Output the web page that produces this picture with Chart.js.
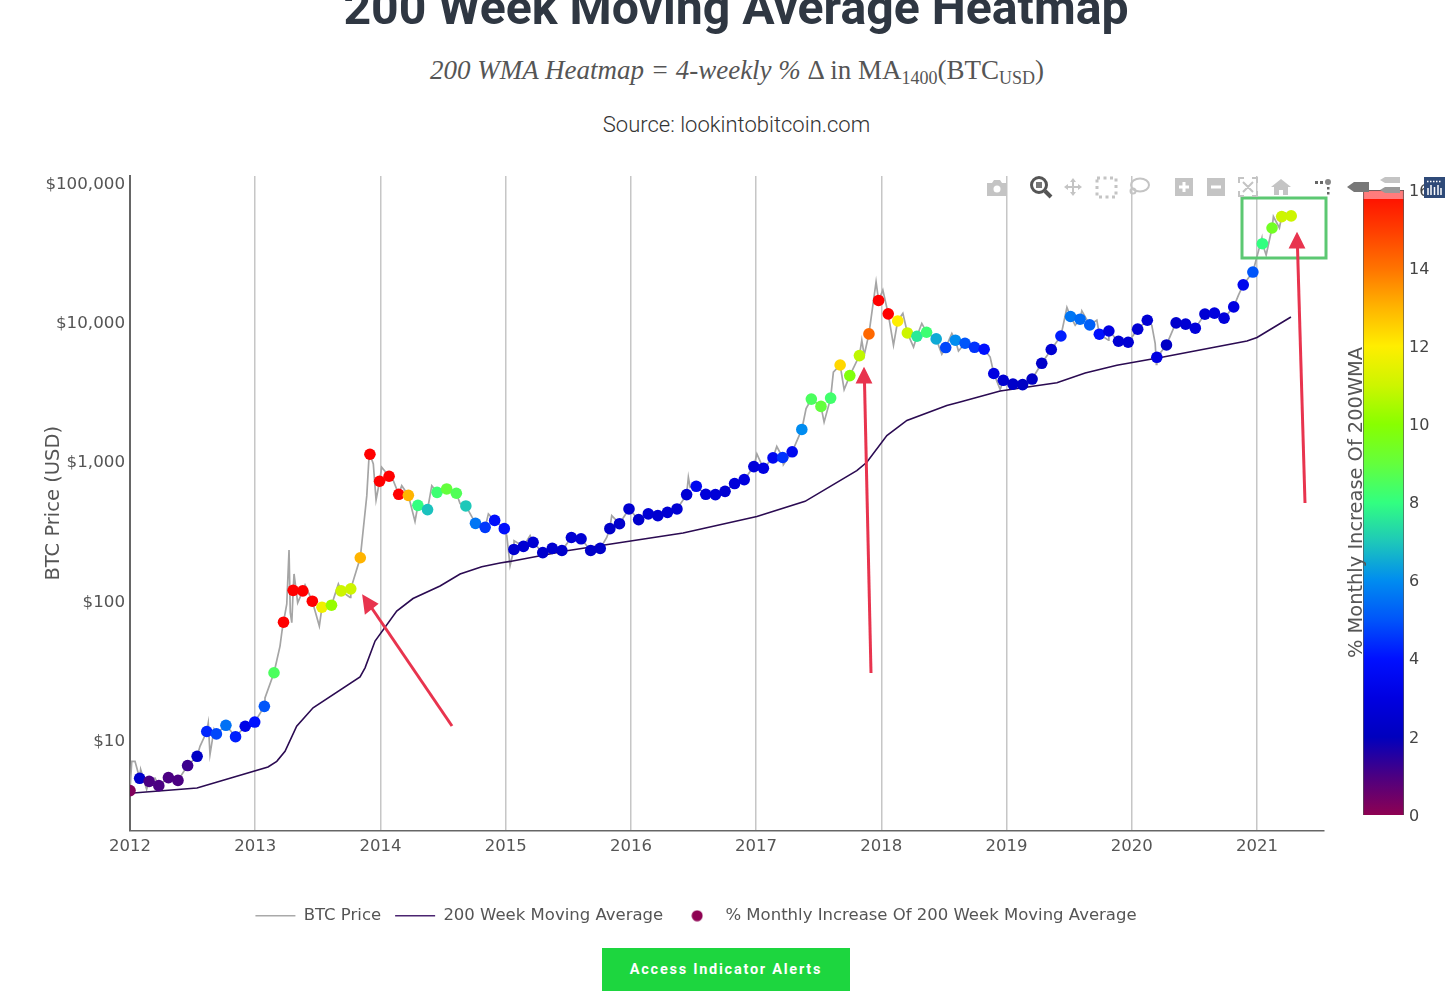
<!DOCTYPE html>
<html>
<head>
<meta charset="utf-8">
<title>200 Week Moving Average Heatmap</title>
<script src="https://cdn.jsdelivr.net/npm/chart.js@4"></script>
<style>
  html, body { margin: 0; padding: 0; background: #fff; overflow: hidden; }
  body { width: 1456px; height: 1007px; position: relative; }
  canvas { position: absolute; display: block; }
  #title, #formula, #source { position: absolute; left: 0; text-align: center; white-space: nowrap; }
  #title { top: -21.500px; width: 1472px; font: 700 48.200px Roboto, sans-serif; color: #2f3742; }
  #formula { top: 55px; width: 1474px; font: 27px "Liberation Serif", serif; color: #555; }
  #formula sub { font-size: 18px; vertical-align: -5px; line-height: 0; }
  #source { top: 112px; width: 1473px; font: 300 22px Roboto, sans-serif; color: #333; }
  #barTitle { position: absolute; left: 1344px; top: 502px; transform-origin: 0 0; transform: translate(0, 156px) rotate(-90deg); font: 19.400px "DejaVu Sans", sans-serif; color: #555; white-space: nowrap; }
  #alerts { position: absolute; left: 602px; top: 948px; width: 248px; height: 43px; background: #1dd63f; color: #fff; text-align: center; font: 700 14.500px/43px Roboto, sans-serif; letter-spacing: 1.750px; }
  #overlay { position: absolute; left: 0; top: 0; }
</style>
</head>
<body>
<div id="title">200 Week Moving Average Heatmap</div>
<div id="formula"><i>200 WMA Heatmap = 4-weekly %</i> &#916; in MA<sub>1400</sub>(BTC<sub>USD</sub>)</div>
<div id="source">Source: lookintobitcoin.com</div>
<canvas id="mainChart" width="1456" height="1007" style="left:0;top:0"></canvas>
<canvas id="barChart" width="116" height="660" style="left:1340px;top:170px"></canvas>
<div id="barTitle">% Monthly Increase Of 200WMA</div>
<div id="alerts">Access Indicator Alerts</div>

<svg id="overlay" width="1456" height="1007">
  <!-- green box and red arrows drawn on the original screenshot -->
  <rect x="1242" y="198" width="84" height="60" fill="none" stroke="#5cc872" stroke-width="3"/>
  <g stroke="#e8344e" stroke-width="3" fill="#e8344e">
    <line x1="452" y1="726" x2="369" y2="604"/>
    <path d="M364 597 L376 604 L366 612 Z"/>
    <line x1="871" y1="673" x2="864.500" y2="382"/>
    <path d="M864 370 L870 382 L858 382 Z"/>
    <line x1="1305" y1="503" x2="1297.500" y2="247"/>
    <path d="M1297 235 L1303 247 L1291 247 Z"/>
  </g>
  <!-- plotly mode bar -->
  <g fill="#c4c4c4" stroke="none">
    <path d="M987 183 h5 l2 -3 h6 l2 3 h5 v13 h-20 z"/>
    <circle cx="997" cy="189" r="3.500" fill="#fff"/>
    <path d="M1073 178 l3 4 h-2 v4 h4 v-2 l4 3 l-4 3 v-2 h-4 v4 h2 l-3 4 l-3 -4 h2 v-4 h-4 v2 l-4 -3 l4 -3 v2 h4 v-4 h-2 z"/>
    <rect x="1175" y="178" width="18" height="18"/>
    <rect x="1207" y="178" width="18" height="18"/>
    <path d="M1281 179 l10 8 h-3 v8 h-5 v-5 h-4 v5 h-5 v-8 h-3 z"/>
    <circle cx="1328" cy="182" r="3" fill="#888"/>
    <rect x="1315" y="181" width="3" height="3" fill="#666"/>
    <rect x="1320" y="181" width="3" height="3" fill="#666"/>
    <rect x="1327" y="187" width="2.500" height="2.500" fill="#666"/>
    <rect x="1327" y="192" width="2.500" height="2.500" fill="#666"/>
    <path d="M1347 187 l7 -5 h15 v10 h-15 z" fill="#777"/>
    <path d="M1380 180 l5 -3 h15 v6 h-15 z"/>
    <path d="M1380 190 l5 -3 h15 v6 h-15 z" fill="#999"/>
  </g>
  <g fill="none" stroke="#c4c4c4" stroke-width="2">
    <rect x="1097" y="178" width="19" height="19" stroke-dasharray="3 3.500" stroke-width="3"/>
    <ellipse cx="1140" cy="185" rx="9" ry="6.500"/>
    <circle cx="1133" cy="191" r="2.500"/>
    <path d="M1239 183 v-5 h5 M1252 178 h5 v5 M1257 191 v5 h-5 M1244 196 h-5 v-5 M1243 182 l10 10 M1253 182 l-10 10"/>
    <path d="M1179 187 h10 M1184 182 v10 M1211 187 h10" stroke="#fff" stroke-width="3"/>
  </g>
  <g fill="none" stroke="#555" stroke-width="3">
    <circle cx="1039" cy="185" r="7.500"/>
    <line x1="1045" y1="191" x2="1051" y2="197" stroke-width="4"/>
    <rect x="1036" y="182" width="6" height="6" fill="#777" stroke="none"/>
  </g>
  <rect x="1424" y="177" width="21" height="21" fill="#2f4a78"/>
  <g stroke="#fff" stroke-width="1.500">
    <line x1="1428" y1="188" x2="1428" y2="195"/><line x1="1431" y1="185" x2="1431" y2="195"/>
    <line x1="1434.500" y1="187" x2="1434.500" y2="195"/><line x1="1438" y1="185" x2="1438" y2="195"/>
    <line x1="1441" y1="188" x2="1441" y2="195"/>
    <line x1="1427" y1="181.500" x2="1442" y2="181.500" stroke-dasharray="1.500 1.500"/>
  </g>
</svg>

<script>
// 4-weekly samples, x as decimal years
const dotYears = [
  2012.000,2012.077,2012.153,2012.230,2012.307,2012.383,2012.460,2012.536,2012.613,2012.690,2012.766,2012.843,2012.920,2012.996,
  2013.073,2013.150,2013.226,2013.303,2013.380,2013.456,2013.533,2013.609,2013.686,2013.763,2013.839,2013.916,2013.993,
  2014.069,2014.146,2014.223,2014.299,2014.376,2014.452,2014.529,2014.606,2014.682,2014.759,2014.836,2014.912,2014.989,
  2015.066,2015.142,2015.219,2015.296,2015.372,2015.449,2015.525,2015.602,2015.679,2015.755,2015.832,2015.909,2015.985,
  2016.062,2016.139,2016.215,2016.292,2016.368,2016.445,2016.522,2016.598,2016.675,2016.752,2016.828,2016.905,2016.982,
  2017.058,2017.135,2017.212,2017.288,2017.365,2017.441,2017.518,2017.595,2017.671,2017.748,2017.825,2017.901,2017.978,
  2018.055,2018.131,2018.208,2018.284,2018.361,2018.438,2018.514,2018.591,2018.668,2018.744,2018.821,2018.898,2018.974,
  2019.051,2019.128,2019.204,2019.281,2019.357,2019.434,2019.511,2019.587,2019.664,2019.741,2019.817,2019.894,2019.971,
  2020.047,2020.124,2020.200,2020.277,2020.354,2020.430,2020.507,2020.584,2020.660,2020.737,2020.814,2020.890,2020.967,
  2021.043,2021.120,2021.197,2021.273];
const dotPrices = [
  4.35,5.33,5.07,4.72,5.39,5.15,6.58,7.67,11.55,11.1,12.8,10.6,12.6,13.5,
  17.5,30.5,70.3,119,118,99.5,90.1,93.1,118,122,204,1128,722,
  784,582,572,485,452,601,636,592,480,360,337,378,330,
  234,246,263,222,238,230,285,279,230,238,330,358,457,
  383,421,409,432,457,579,664,582,579,611,695,742,920,
  895,1063,1069,1175,1700,2807,2487,2853,4931,4137,5757,8241,14322,
  11480,10210,8375,7930,8472,7586,6577,7430,7063,6607,6397,4285,3828,
  3597,3565,3908,5070,6368,7962,10990,10510,9572,8204,8650,7300,7178,
  8913,10330,5598,6866,9886,9683,9057,11430,11610,10690,12880,18540,22910,
  36590,47430,57280,57940];
const dotHeat = [
  0.2,2.4,1,1,1,1,1.2,2.2,4.3,4.8,5.5,4.2,3.2,4,
  5,8.5,16,16,16,16,11.7,10.2,11,11,13,16,16,
  16,16,13,8,6.9,8.2,9,8.6,7,5.6,4.6,3.9,3.9,
  2.5,2.6,2.6,2.4,2.5,2.4,2.6,2.6,2.3,2.3,2.3,2.4,2.5,
  2.4,2.6,2.5,2.6,2.6,2.6,3.5,2.8,2.7,2.6,2.8,2.9,2.8,
  3,3.5,4.5,3.5,6,8.5,9,8.3,12.4,9.8,10.8,14.2,16,
  16,12,11,7.6,8.2,6.5,4.8,6,5,4.5,4,3,2.5,
  2.3,2.2,2.2,2.3,2.6,4.2,5.6,5.4,5.2,4,3,2.6,2.6,
  2.6,2.6,3,2.2,2.4,2.6,2.8,2.6,2.9,2.8,3,3.4,5,
  8,9.4,11,11];

// price wicks between the 4-weekly samples
const wickYears = [
  2012.014,2012.040,2012.085,2012.133,2012.200,2012.559,2012.625,2012.639,2012.671,
  2013.078,2013.198,2013.214,2013.252,2013.270,2013.280,2013.292,2013.310,2013.339,2013.398,2013.512,2013.664,2013.757,2013.891,2013.907,2013.943,2013.965,
  2014.010,2014.103,2014.170,2014.276,2014.410,2014.636,2014.862,
  2015.009,2015.035,2015.067,2015.195,2015.807,2015.847,
  2016.459,2016.473,
  2017.006,2017.165,2017.218,2017.399,2017.543,2017.617,2017.703,2017.844,2017.863,2017.958,
  2018.012,2018.097,2018.172,2018.257,2018.323,2018.483,2018.563,2018.616,2018.869,2018.949,
  2019.482,2019.548,2019.601,2019.721,2019.814,
  2020.160,2020.187,2020.196,2020.333,2020.852,
  2021.039,2021.073,2021.131,2021.179,2021.225];
const wickPrices = [
  7.06,7.06,6.18,4.44,5.35,9.05,13.3,7.89,12,
  20.1,47.4,60.8,95,232,82.4,69.8,156,97,130,66,132,106,569,1016,962,530,
  910,729,671,372,671,499,421,
  294,179,270,294,285,409,
  771,653,
  1135,1282,951,2404,1919,4385,3281,7430,5794,19498,
  16980,6840,11560,6637,9795,5888,8299,6221,5623,3281,
  12760,9506,12050,10330,7430,
  9506,7031,4989,9016,15630,
  40180,30340,57280,47430,60810];

const maYears = [
  2012.000,2012.535,2013.102,2013.172,2013.238,2013.331,2013.462,2013.837,2013.877,2013.957,
  2014.130,2014.260,2014.476,2014.636,2014.809,2014.955,2015.035,2015.488,2016.417,2017.006,
  2017.391,2017.804,2017.884,2018.044,2018.204,2018.523,2018.629,2018.949,2019.402,2019.628,
  2019.881,2020.251,2020.920,2021.000,2021.271];
const maPrices = [
  4.16,4.54,6.43,7.06,8.33,12.6,17.1,28.5,33.1,51.5,
  84.5,104,128,156,176,187,192,229,307,403,
  518,861,988,1538,1972,2528,2672,3206,3681,4313,
  4909,5623,7332,7762,10900];

const yearTicks = [2012,2013,2014,2015,2016,2017,2018,2019,2020,2021];
const priceTicks = [10,100,1000,10000,100000];
const heatTicks = [0,2,4,6,8,10,12,14,16];

// colour scale
const heatStops = [0,1,2,3,4,5,6,7,8,9,10,11,12,13,14,15,15.8,16];
const heatColors = [[142,1,82],[75,0,130],[0,0,190],[0,0,225],[0,16,255],[0,85,250],[0,140,240],[30,200,185],[50,255,128],[100,255,60],[136,255,0],[205,245,0],[255,238,0],[255,180,0],[255,115,0],[255,60,0],[255,20,0],[255,0,0]];

function heatColor(v){
  let i=0;
  while(i<heatStops.length-2 && v>heatStops[i+1]) i++;
  const t=Math.min(1,Math.max(0,(v-heatStops[i])/(heatStops[i+1]-heatStops[i])));
  const c=heatColors[i].map((a,k)=>Math.round(a+(heatColors[i+1][k]-a)*t));
  return `rgb(${c[0]},${c[1]},${c[2]})`;
}

const toPoints=(xs,ys)=>xs.map((x,i)=>({x:x,y:ys[i]}));
const btcPoints=toPoints(dotYears.concat(wickYears),dotPrices.concat(wickPrices)).sort((a,b)=>a.x-b.x);

// legend marker for the dot series, an ellipse would come out of pointStyleWidth otherwise
const legendDot=document.createElement("canvas");
legendDot.width=12;
legendDot.height=12;
const dotCtx=legendDot.getContext("2d");
dotCtx.fillStyle=heatColor(0);
dotCtx.arc(6,6,5.5,0,Math.PI*2);
dotCtx.fill();

const axisFont={family:"'DejaVu Sans', sans-serif",size:16.5};

// the legend sits right of the canvas centre in the original
const shiftLegend={
  id:"shiftLegend",
  afterLayout(chart){
    chart.legend.left+=34;
    chart.legend.right+=34;
  }
};

new Chart(document.getElementById("mainChart"),{
  type:"scatter",
  plugins:[shiftLegend],
  data:{
    datasets:[{
      label:"% Monthly Increase Of 200 Week Moving Average",
      data:toPoints(dotYears,dotPrices),
      pointRadius:5.8,
      pointBorderWidth:0,
      pointBackgroundColor:dotHeat.map(heatColor),
      showLine:false
    },{
      label:"200 Week Moving Average",
      data:toPoints(maYears,maPrices),
      borderColor:"#2b0b52",
      borderWidth:1.6,
      pointRadius:0,
      showLine:true
    },{
      label:"BTC Price",
      data:btcPoints,
      borderColor:"#a5a5a5",
      borderWidth:1.7,
      pointRadius:0,
      showLine:true
    }]
  },
  options:{
    responsive:false,
    animation:false,
    layout:{padding:{left:0,right:132,top:176,bottom:73}},
    plugins:{
      tooltip:{enabled:false},
      legend:{
        position:"bottom",
        labels:{
          usePointStyle:true,
          pointStyleWidth:40,
          padding:14,
          color:"#555",
          font:{family:"'DejaVu Sans', sans-serif",size:16.5},
          generateLabels:()=>[
            {text:"BTC Price",pointStyle:"line",strokeStyle:"#a9a9a9",fillStyle:"#a9a9a9",lineWidth:1.5,fontColor:"#555"},
            {text:"200 Week Moving Average",pointStyle:"line",strokeStyle:"#4b2470",fillStyle:"#4b2470",lineWidth:1.5,fontColor:"#555"},
            {text:"% Monthly Increase Of 200 Week Moving Average",pointStyle:legendDot,strokeStyle:"#fff",fillStyle:"#fff",lineWidth:0,fontColor:"#555"}
          ]
        }
      }
    },
    scales:{
      x:{
        type:"linear",
        min:2012,
        max:2021.535,
        afterBuildTicks:(axis)=>{axis.ticks=yearTicks.map(v=>({value:v}));},
        afterFit:(axis)=>{axis.height=63;},
        grid:{color:"#c6c6c6",lineWidth:1.5,drawTicks:false},
        border:{color:"#666",width:1.5},
        ticks:{color:"#555",font:axisFont,padding:6,maxRotation:0,callback:(v)=>String(v)}
      },
      y:{
        type:"logarithmic",
        min:2.25,
        max:112000,
        afterBuildTicks:(axis)=>{axis.ticks=priceTicks.map(v=>({value:v}));},
        afterFit:(axis)=>{axis.width=130;},
        grid:{display:false,drawTicks:false,tickLength:0},
        border:{color:"#666",width:2},
        title:{display:true,text:"BTC Price (USD)",color:"#555",font:{family:"'DejaVu Sans', sans-serif",size:19.5},padding:{top:42,bottom:0}},
        ticks:{color:"#555",font:{family:"'DejaVu Sans', sans-serif",size:16.7},padding:5,labelOffset:1.5,callback:(v)=>"$"+Number(v).toLocaleString("en-US")}
      }
    }
  }
});

new Chart(document.getElementById("barChart"),{
  type:"bar",
  data:{
    labels:["heat"],
    datasets:[{
      data:[[0,16]],
      barPercentage:1,
      categoryPercentage:1,
      borderWidth:1,
      borderColor:"#555",
      backgroundColor:(ctx)=>{
        const area=ctx.chart.chartArea;
        if(!area) return "#fff";
        const g=ctx.chart.ctx.createLinearGradient(0,area.bottom,0,area.top);
        heatStops.filter(s=>s<15.7).forEach(s=>g.addColorStop(s/16,heatColor(s)));
        g.addColorStop(0.9855,"rgb(255,20,0)");
        g.addColorStop(0.986,"rgba(255,110,110,0.9)");
        g.addColorStop(1,"rgba(255,110,110,0.9)");
        return g;
      }
    }]
  },
  options:{
    responsive:false,
    animation:false,
    layout:{padding:{left:23,top:20,bottom:15,right:0}},
    plugins:{legend:{display:false},tooltip:{enabled:false}},
    scales:{
      x:{display:false},
      y:{
        position:"right",
        min:0,
        max:16,
        afterBuildTicks:(axis)=>{axis.ticks=heatTicks.map(v=>({value:v}));},
        afterFit:(axis)=>{axis.width=52;},
        grid:{display:false,drawTicks:false,tickLength:0},
        border:{display:false},
        ticks:{color:"#444",font:{family:"'DejaVu Sans', sans-serif",size:16},padding:5,labelOffset:1.5}
      }
    }
  }
});
</script>
</body>
</html>
